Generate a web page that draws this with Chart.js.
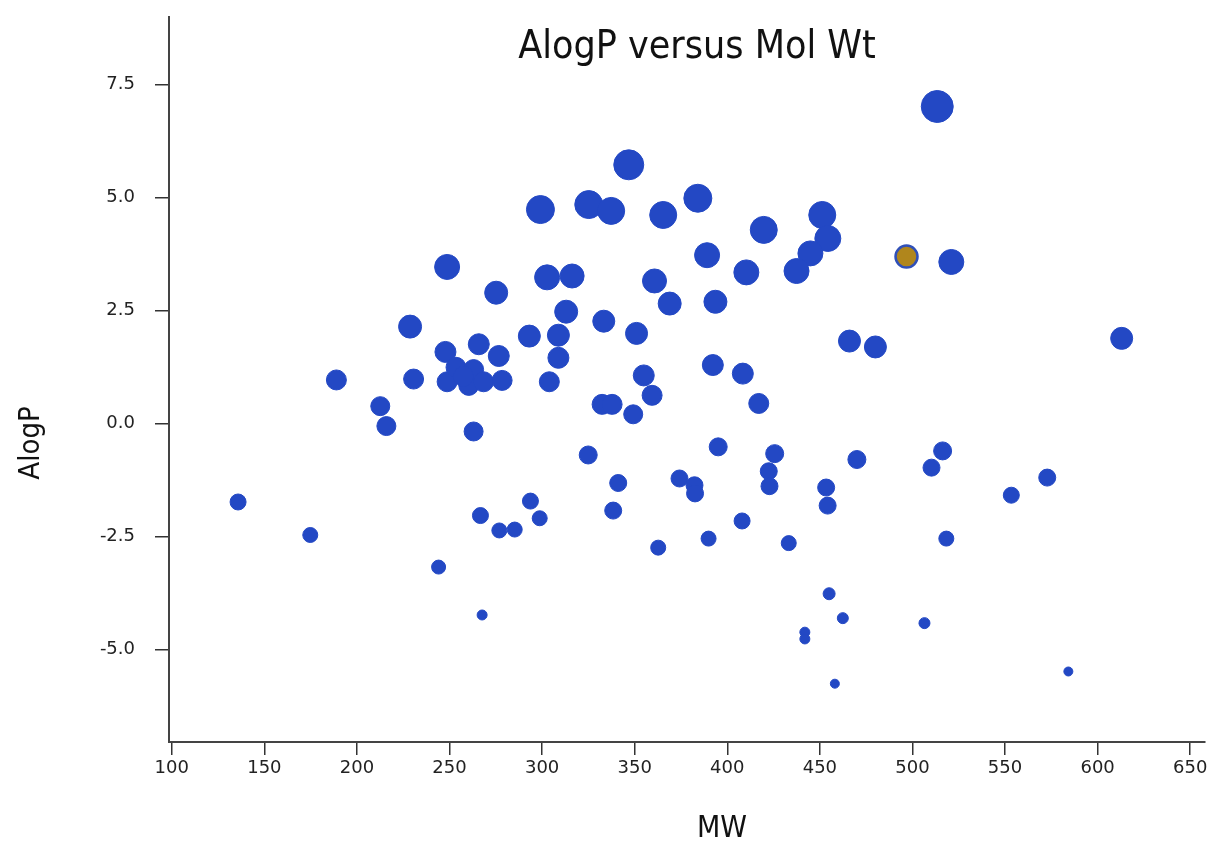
<!DOCTYPE html>
<html lang="en">

<head>
    <meta charset="UTF-8" />
    <meta name="viewport" content="width=device-width, initial-scale=1.0" />
    <title>AlogP versus Mol Wt</title>
    <style>
        * {
            margin: 0;
            padding: 0;
        }

        body {
            background: #ffffff;
        }

        .chartBox {
            width: 1208px;
            height: 841px;
        }
    </style>
</head>

<body>
    <div class="chartBox">
        <canvas id="myChart"></canvas>
    </div>
    <script src="https://cdn.jsdelivr.net/npm/chart.js@4.4.0/dist/chart.umd.min.js"></script>
    <script>
        // molecules: molecular weight, AlogP, bubble radius (px)
        const mw = [
            513.4, 346.8, 299.1, 325.2, 337.3, 365.4, 384.1, 419.7, 451.3, 454.3,
            444.9, 437.4, 389.1, 410.3, 521.0, 248.7, 275.2, 302.7, 316.2, 360.7,
            368.9, 393.6, 313.0, 228.7, 293.1, 308.8, 333.3, 351.0, 308.8, 247.8,
            265.8, 276.6, 466.0, 480.0, 613.0, 392.2, 408.4, 354.9, 359.4, 417.0,
            332.4, 337.8, 349.2, 303.9, 188.9, 230.6, 212.6, 215.9, 263.0, 248.7,
            253.5, 260.4, 263.0, 268.4, 278.4, 257.5,
            324.9, 395.1, 425.6, 422.4, 422.8, 470.0, 516.3, 510.3, 341.1, 374.2,
            382.3, 382.6, 453.4, 454.2, 338.4, 362.7, 389.9, 408.0, 433.2, 518.3,
            553.4, 572.8, 135.8, 174.8, 244.1, 266.7, 267.6, 276.9, 285.2, 293.7,
            298.7, 455.0, 462.4, 441.9, 441.9, 506.5, 458.1, 584.2
        ];
        const alogp = [
            7.02, 5.73, 4.74, 4.85, 4.71, 4.62, 4.99, 4.29, 4.62, 4.10,
            3.77, 3.38, 3.73, 3.35, 3.58, 3.47, 2.90, 3.24, 3.27, 3.16,
            2.66, 2.70, 2.48, 2.15, 1.94, 1.96, 2.27, 2.00, 1.46, 1.59,
            1.76, 1.50, 1.83, 1.70, 1.89, 1.30, 1.11, 1.07, 0.63, 0.45,
            0.43, 0.43, 0.21, 0.93, 0.97, 0.99, 0.39, -0.05, -0.17, 0.93,
            1.25, 0.85, 1.20, 0.93, 0.96, 1.05,
            -0.69, -0.51, -0.66, -1.05, -1.38, -0.79, -0.60, -0.97, -1.31, -1.21,
            -1.36, -1.54, -1.41, -1.81, -1.92, -2.74, -2.54, -2.15, -2.64, -2.54,
            -1.58, -1.19, -1.73, -2.46, -3.17, -2.03, -4.23, -2.36, -2.34, -1.71,
            -2.09, -3.76, -4.30, -4.61, -4.76, -4.41, -5.75, -5.48
        ];
        const size = [
            16, 15, 14, 14, 13.5, 13.5, 14, 13.5, 13.5, 13,
            12.5, 12.5, 12.5, 12.5, 12.5, 12.5, 11.5, 12.5, 12, 12,
            11.5, 11.5, 11.5, 11.5, 11, 11, 11, 11, 10.5, 10.5,
            10.5, 10.5, 11, 11, 11, 10.5, 10.5, 10.5, 10, 10,
            10, 10, 9.5, 10, 10, 10, 9.5, 9.5, 9.5, 10,
            10, 10, 10, 10, 10, 10,
            9, 9, 9, 8.5, 8.5, 9, 9, 8.5, 8.5, 8.5,
            8.5, 8.5, 8.5, 8.5, 8.5, 7.5, 7.5, 8, 7.5, 7.5,
            8, 8.5, 8, 7.5, 7, 8, 5, 7.5, 7.5, 8,
            7.5, 6, 5.5, 5, 5, 5.5, 4.5, 4.5
        ];

        // the highlighted molecule
        const markMw = [496.8];
        const markAlogp = [3.70];
        const markSize = [11];

        const xTicks = [100, 150, 200, 250, 300, 350, 400, 450, 500, 550, 600, 650];
        const yTicks = [-5, -2.5, 0, 2.5, 5, 7.5];

        const blue = "#2348c4";
        const tickFont = { family: "'DejaVu Sans', Verdana, sans-serif", size: 18 };
        const titleFamily = "'DejaVu Sans Condensed', 'DejaVu Sans', sans-serif";

        const textPlugin = {
            id: "texts",
            afterDraw(chart) {
                const ctx = chart.ctx;
                ctx.save();
                ctx.fillStyle = "#111111";
                ctx.textAlign = "center";
                ctx.textBaseline = "alphabetic";

                ctx.font = "39px " + titleFamily;
                ctx.fillText("AlogP versus Mol Wt", 697, 58);

                ctx.font = "30px " + titleFamily;
                ctx.fillText("MW", 722, 837);

                ctx.translate(39, 443);
                ctx.rotate(-Math.PI / 2);
                ctx.font = "29px " + titleFamily;
                ctx.fillText("AlogP", 0, 0);
                ctx.restore();
            },
        };

        const data = {
            datasets: [
                {
                    label: "molecules",
                    data: mw.map((v, i) => ({ x: v, y: alogp[i], r: size[i] })),
                    backgroundColor: blue,
                    borderColor: blue,
                    borderWidth: 1,
                },
                {
                    label: "selected",
                    data: markMw.map((v, i) => ({ x: v, y: markAlogp[i], r: markSize[i] })),
                    backgroundColor: "#b0861c",
                    borderColor: "#3050b8",
                    borderWidth: 2.5,
                },
            ],
        };

        const options = {
            responsive: true,
            maintainAspectRatio: false,
            animation: false,
            layout: {
                autoPadding: false,
                padding: { top: 17, right: 3, left: 0, bottom: 0 },
            },
            scales: {
                x: {
                    type: "linear",
                    min: 98.5,
                    max: 658,
                    afterFit: function (scale) {
                        scale.height = 99;
                        scale.paddingLeft = 0;
                        scale.paddingRight = 0;
                    },
                    afterBuildTicks: function (scale) {
                        scale.ticks = xTicks.map((v) => ({ value: v }));
                    },
                    border: { display: true, color: "#444444", width: 2 },
                    grid: {
                        drawOnChartArea: false,
                        drawTicks: true,
                        tickLength: 13,
                        color: "#333333",
                        lineWidth: 1.5,
                    },
                    ticks: {
                        font: tickFont,
                        color: "#222222",
                        padding: 3,
                        maxRotation: 0,
                        autoSkip: false,
                    },
                },
                y: {
                    type: "linear",
                    min: -7.04,
                    max: 9.0,
                    afterFit: function (scale) {
                        scale.width = 169;
                        scale.paddingTop = 0;
                        scale.paddingBottom = 0;
                    },
                    afterBuildTicks: function (scale) {
                        scale.ticks = yTicks.map((v) => ({ value: v }));
                    },
                    border: { display: true, color: "#444444", width: 2 },
                    grid: {
                        drawOnChartArea: false,
                        drawTicks: true,
                        tickLength: 14,
                        color: "#333333",
                        lineWidth: 1.5,
                    },
                    ticks: {
                        font: tickFont,
                        color: "#222222",
                        padding: 20,
                        autoSkip: false,
                        callback: function (value) {
                            return Number(value).toFixed(1);
                        },
                    },
                },
            },
            plugins: {
                legend: { display: false },
                title: { display: false },
            },
        };

        const config = {
            type: "bubble",
            data: data,
            options: options,
            plugins: [textPlugin],
        };

        const ctx = document.getElementById("myChart").getContext("2d");
        const myChart = new Chart(ctx, config);
    </script>
</body>

</html>
